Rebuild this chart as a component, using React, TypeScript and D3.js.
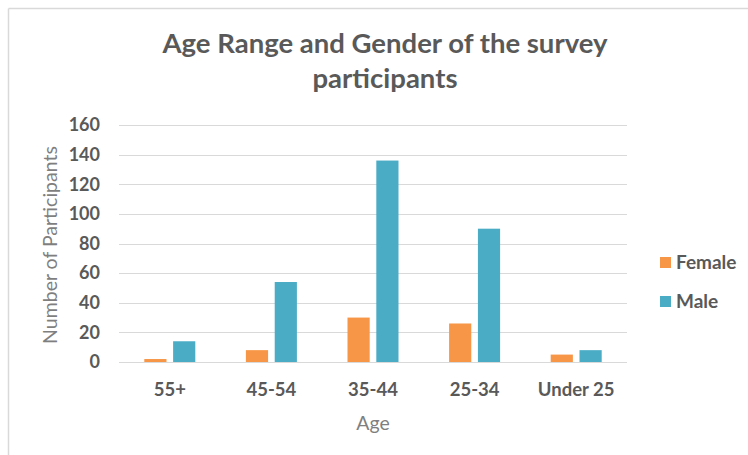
import React from "react";
import * as d3 from "d3";

const ageGroups = ["55+", "45-54", "35-44", "25-34", "Under 25"];
const seriesNames = ["Female", "Male"];
const femaleCounts = [2, 8, 30, 26, 5];
const maleCounts = [14, 54, 136, 90, 8];
const yTicks = [0, 20, 40, 60, 80, 100, 120, 140, 160];
const seriesColors = ["#F79646", "#4BACC6"];

const W = 748;
const H = 455;
const FONT = "Lato, 'Open Sans', sans-serif";

export default function App() {
  const x = d3.scaleBand<string>().domain(ageGroups).range([119, 627]);
  const y = d3.scaleLinear().domain([0, 160]).range([362, 125]);
  const values = [femaleCounts, maleCounts];

  return (
    <div style={{ position: "fixed", left: 0, top: 0, width: W, height: H, background: "#fff" }}>
      <svg width={W} height={H} style={{ display: "block" }}>
        <rect x={0} y={0} width={W} height={H} fill="#fff" />
        {/* chart frame */}
        <line x1={8.5} y1={8.5} x2={W} y2={8.5} stroke="#d9d9d9" strokeWidth={1.5} />
        <line x1={8.5} y1={8.5} x2={8.5} y2={H} stroke="#d9d9d9" strokeWidth={1.5} />

        <text x={385} y={53} textAnchor="middle" fontFamily={FONT} fontWeight={700} fontSize={27.5} fill="#595959">
          Age Range and Gender of the survey
        </text>
        <text x={385} y={88} textAnchor="middle" fontFamily={FONT} fontWeight={700} fontSize={27.5} fill="#595959">
          participants
        </text>

        {/* gridlines and y ticks */}
        {yTicks.map((t) => (
          <g key={t}>
            <line x1={119} x2={627} y1={Math.round(y(t)) + 0.5} y2={Math.round(y(t)) + 0.5} stroke="#d9d9d9" strokeWidth={1.2} />
            <text x={100} y={y(t)} dy="0.35em" textAnchor="end" fontFamily={FONT} fontWeight={700} fontSize={18} fill="#595959">
              {t}
            </text>
          </g>
        ))}

        {/* bars */}
        {ageGroups.map((g, i) => {
          const c = (x(g) as number) + x.bandwidth() / 2;
          const inner = d3.scaleBand<string>().domain(seriesNames).range([c - 25.5, c + 25.5]).paddingInner(0.23);
          return (
            <g key={g}>
              {seriesNames.map((s, j) => (
                <rect
                  key={s}
                  x={inner(s)}
                  y={y(values[j][i])}
                  width={inner.bandwidth()}
                  height={y(0) - y(values[j][i])}
                  fill={seriesColors[j]}
                />
              ))}
              <text x={c} y={396} textAnchor="middle" fontFamily={FONT} fontWeight={700} fontSize={18.5} fill="#595959">
                {g}
              </text>
            </g>
          );
        })}

        <text x={373} y={430} textAnchor="middle" fontFamily={FONT} fontSize={19.5} fill="#7f7f7f">
          Age
        </text>
        <text
          transform={`translate(57,245) rotate(-90)`}
          textAnchor="middle"
          fontFamily={FONT}
          fontSize={19.5}
          fill="#7f7f7f"
        >
          Number of Participants
        </text>

        {/* legend */}
        {seriesNames.map((s, j) => (
          <g key={s} transform={`translate(660,${257 + j * 39})`}>
            <rect x={0} y={0} width={11} height={11} fill={seriesColors[j]} />
            <text x={16} y={5.5} dy="0.35em" fontFamily={FONT} fontWeight={700} fontSize={19} fill="#595959">
              {s}
            </text>
          </g>
        ))}
      </svg>
    </div>
  );
}
